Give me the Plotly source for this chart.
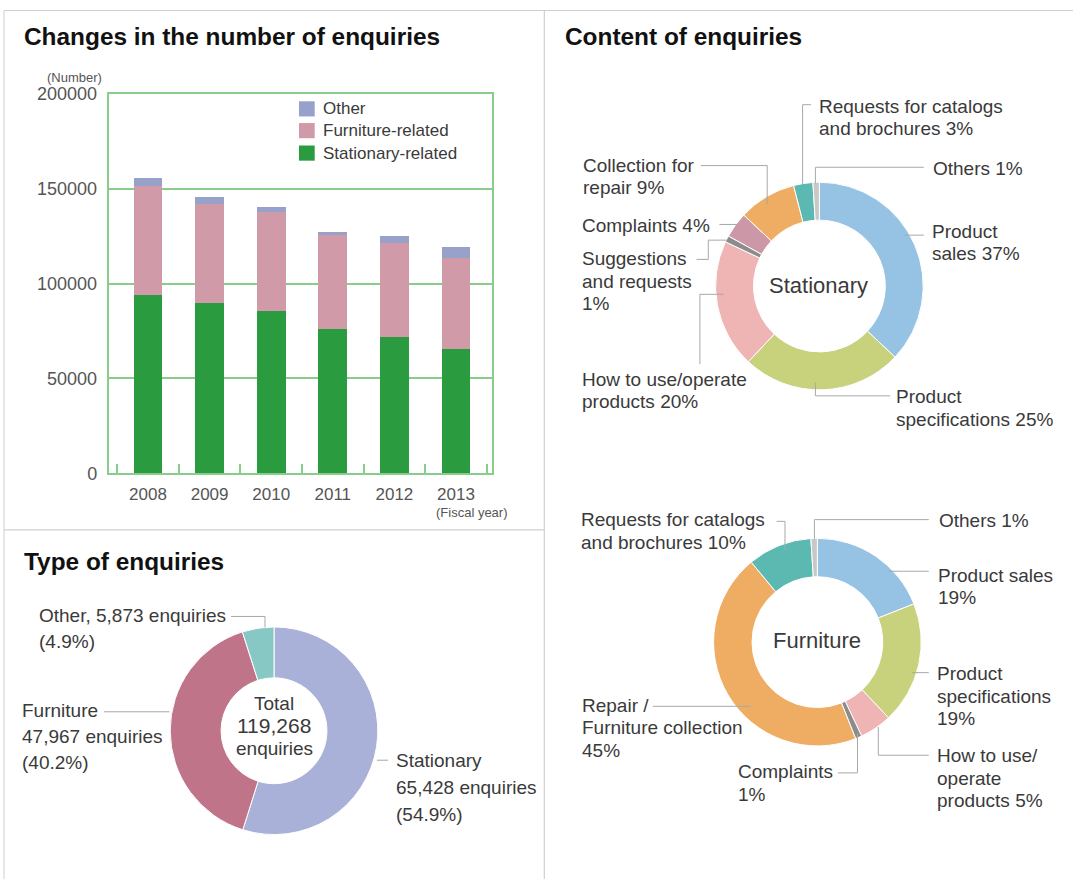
import plotly.graph_objects as go

# ---------------- DATA ----------------
years = [2008, 2009, 2010, 2011, 2012, 2013]
year_labels = ["2008", "2009", "2010", "2011", "2012", "2013"]
series_names = ["Stationary-related", "Furniture-related", "Other"]
stationary_counts = [94000, 89500, 85500, 76000, 72000, 65428]
furniture_counts = [57500, 52500, 52000, 49500, 49500, 47967]
other_counts = [4000, 3500, 3000, 1500, 3800, 5873]
y_ticks = [0, 50000, 100000, 150000, 200000]

type_names = ["Stationary", "Furniture", "Other"]
type_values = [65428, 47967, 5873]

stat_names = ["Product sales", "Product specifications", "How to use/operate products",
              "Suggestions and requests", "Complaints", "Collection for repair",
              "Requests for catalogs and brochures", "Others"]
stat_pct = [37, 25, 20, 1, 4, 9, 3, 1]

furn_names = ["Product sales", "Product specifications", "How to use/operate products",
              "Complaints", "Repair / Furniture collection",
              "Requests for catalogs and brochures", "Others"]
furn_pct = [19, 19, 5, 1, 45, 10, 1]

# ---------------- STYLE ----------------
W, H = 1073, 879
OFF, SC = 8.45, 0.979  # vertical correction for how the page is photographed
FONT = "Liberation Sans, Arial, Helvetica, sans-serif"
TXT = "#3a3a3a"
LEAD = "#a8a8a8"
GREEN_LINE = "#88ce8a"
bar_colors = ["#2b9b3f", "#d09aa9", "#97a1c9"]
type_colors = ["#aab1d8", "#bf7489", "#88c8c4"]
stat_colors = ["#96c2e3", "#c8d17c", "#efb4b4", "#8c8c8c", "#cc97a6", "#efad63", "#5bb9b2", "#c8c8c8"]
furn_colors = ["#96c2e3", "#c8d17c", "#efb4b4", "#8c8c8c", "#efad63", "#5bb9b2", "#c8c8c8"]


def X(p):
    return p / W


def Y(p):
    return 1 - ((p - OFF) / SC) / H


fig = go.Figure()

# ---------------- BAR CHART ----------------
for name, vals, col in zip(series_names, [stationary_counts, furniture_counts, other_counts], bar_colors):
    fig.add_trace(go.Bar(x=years, y=vals, name=name, marker=dict(color=col, line=dict(width=0)),
                         width=0.47, showlegend=False, xaxis="x", yaxis="y"))

fig.update_layout(
    barmode="stack",
    xaxis=dict(domain=[X(108.5), X(491.7)], range=[2007.359, 2013.58], tickmode="array",
               tickvals=years, ticktext=year_labels, showgrid=False, zeroline=False,
               showline=True, mirror=True, linecolor=GREEN_LINE, linewidth=1.5, ticks="",
               tickfont=dict(family=FONT, size=17, color="#555555"), ticklabelstandoff=5,
               minor=dict(ticks="inside", ticklen=9, tickcolor=GREEN_LINE, tickwidth=1.5,
                          tick0=2008.5, dtick=1, showgrid=False),
               fixedrange=True),
    yaxis=dict(domain=[Y(472.5), Y(92.5)], range=[0, 200000], tickmode="array", tickvals=y_ticks,
               ticktext=[str(v) for v in y_ticks], showgrid=True, gridcolor=GREEN_LINE, gridwidth=1.5,
               zeroline=False, showline=True, mirror=True, linecolor=GREEN_LINE, linewidth=1.5,
               ticks="", tickfont=dict(family=FONT, size=18, color="#555555"), ticklabelstandoff=6,
               fixedrange=True),
)

# ---------------- DONUTS ----------------
def dom(cx, cy, r):
    return dict(x=[X(cx - r), X(cx + r)], y=[Y(cy + r), Y(cy - r)])


fig.add_trace(go.Pie(values=type_values, labels=type_names, domain=dom(274, 730.5, 104), hole=0.51,
                     sort=False, direction="clockwise", rotation=0, textinfo="none",
                     marker=dict(colors=type_colors, line=dict(color="white", width=1)), showlegend=False))
fig.add_trace(go.Pie(values=stat_pct, labels=stat_names, domain=dom(819.4, 285, 104), hole=0.635,
                     sort=False, direction="clockwise", rotation=0, textinfo="none",
                     marker=dict(colors=stat_colors, line=dict(color="white", width=1)), showlegend=False))
fig.add_trace(go.Pie(values=furn_pct, labels=furn_names, domain=dom(817.4, 641.7, 104), hole=0.63,
                     sort=False, direction="clockwise", rotation=0, textinfo="none",
                     marker=dict(colors=furn_colors, line=dict(color="white", width=1)), showlegend=False))

annotations = []
shapes = []


def text(x, y, s, size=19, color=TXT, bold=False, anchor="left"):
    annotations.append(dict(x=X(x), y=Y(y), xref="paper", yref="paper", text=(f"<b>{s}</b>" if bold else s),
                            showarrow=False, xanchor=anchor, yanchor="middle",
                            font=dict(family=FONT, size=size, color=color)))


def block(x, y, lines, dy=22.5, size=19, anchor="left"):
    for i, s in enumerate(lines):
        text(x, y + i * dy, s, size=size, anchor=anchor)


def poly(pts, color=LEAD, width=1):
    path = "M" + " L".join(f"{X(a)},{Y(b)}" for a, b in pts)
    shapes.append(dict(type="path", xref="paper", yref="paper", path=path,
                       line=dict(color=color, width=width)))


# frame / dividers
poly([(4, 890), (4, OFF + 0.5), (1073, OFF + 0.5)], color="#cfcfcf", width=1)
poly([(544.3, OFF), (544.3, 890)], color="#cfcfcf", width=1.2)
poly([(4, 529.3), (544.3, 529.3)], color="#cfcfcf", width=1.2)

# titles
text(22, 35, "Changes in the number of enquiries", size=24.4, color="#111111", bold=True)
text(22, 561, "Type of enquiries", size=24.4, color="#111111", bold=True)
text(563, 35, "Content of enquiries", size=24.4, color="#111111", bold=True)

# bar chart extras
text(74, 76, "(Number)", size=13, color="#555555", anchor="center")
text(471.5, 511.5, "(Fiscal year)", size=13, color="#555555", anchor="center")
leg_rows = [107.5, 129.3, 151.8]
for nm, col, yc in zip(series_names[::-1], bar_colors[::-1], leg_rows):
    shapes.append(dict(type="rect", xref="paper", yref="paper", x0=X(299), x1=X(314.7),
                       y0=Y(yc + 7.6), y1=Y(yc - 7.6), fillcolor=col, line=dict(width=0)))
    text(320.5, yc, nm, size=17, color=TXT)

# Type of enquiries labels
total = sum(type_values)
tv = dict(zip(type_names, type_values))
block(274, 703, ["Total", f"{total:,}", "enquiries"], dy=22.5, size=19, anchor="center")
annotations[-2]["font"]["size"] = 21
block(36.5, 615.5, [f"Other, {tv['Other']:,} enquiries", f"({tv['Other'] / total * 100:.1f}%)"], dy=26)
poly([(231, 616), (265, 616), (265, 627)])
block(20, 710, ["Furniture", f"{tv['Furniture']:,} enquiries", f"({tv['Furniture'] / total * 100:.1f}%)"], dy=26)
poly([(104, 711.5), (169.5, 711.5)])
block(394, 760, ["Stationary", f"{tv['Stationary']:,} enquiries", f"({tv['Stationary'] / total * 100:.1f}%)"], dy=27)
poly([(377, 760), (388, 760)])

# Stationary donut labels
sp = dict(zip(stat_names, stat_pct))
text(818.4, 284, "Stationary", size=22, anchor="center")
block(817, 105, ["Requests for catalogs", f"and brochures {sp['Requests for catalogs and brochures']}%"])
poly([(811, 103.3), (802.6, 103.3), (802.6, 183.3)])
block(930.5, 167.3, [f"Others {sp['Others']}%"])
poly([(923.8, 166), (815.4, 166), (815.4, 182)])
block(581.4, 164, ["Collection for", f"repair {sp['Collection for repair']}%"])
poly([(700.9, 164.3), (767.2, 164.3), (767.2, 203.3)])
block(580.4, 224, [f"Complaints {sp['Complaints']}%"])
poly([(719.4, 223.3), (736.9, 223.3)])
block(580.4, 257.7, ["Suggestions", "and requests", f"{sp['Suggestions and requests']}%"])
poly([(696.5, 258.3), (708.3, 258.3), (708.3, 239), (726.8, 239)])
block(580.4, 378.3, ["How to use/operate", f"products {sp['How to use/operate products']}%"])
poly([(699.9, 363.3), (699.9, 293.3), (723.5, 293.3)])
block(929.8, 230, ["Product", f"sales {sp['Product sales']}%"])
poly([(904.6, 234), (923.8, 234)])
block(894.2, 396, ["Product", f"specifications {sp['Product specifications']}%"])
poly([(815.4, 381.7), (815.4, 395), (890, 395)])

# Furniture donut labels
fp = dict(zip(furn_names, furn_pct))
text(817, 640, "Furniture", size=22, anchor="center")
block(578.7, 519, ["Requests for catalogs", f"and brochures {fp['Requests for catalogs and brochures']}%"])
poly([(776.6, 520.7), (785, 520.7), (785, 549.3)])
block(937.3, 520, [f"Others {fp['Others']}%"])
poly([(928.8, 519), (814.4, 519), (814.4, 538.3)])
block(936.2, 575, ["Product sales", f"{fp['Product sales']}%"])
poly([(888.4, 570.7), (928.8, 570.7)])
block(934.9, 673.3, ["Product", "specifications", f"{fp['Product specifications']}%"])
poly([(912, 672.3), (928.8, 672.3)])
block(934.9, 755.7, ["How to use/", "operate", f"products {fp['How to use/operate products']}%"])
poly([(878.3, 726.7), (878.3, 755), (928.8, 755)])
block(736.2, 771.7, ["Complaints", f"{fp['Complaints']}%"])
poly([(837.9, 772.7), (857.5, 772.7), (857.5, 733.3)])
block(580.4, 705, ["Repair /", "Furniture collection", f"{fp['Repair / Furniture collection']}%"])
poly([(652.7, 706), (750.4, 706)])

fig.update_layout(
    width=W, height=H, autosize=False, margin=dict(l=0, r=0, t=0, b=0, pad=0),
    paper_bgcolor="white", plot_bgcolor="white", showlegend=False,
    annotations=annotations, shapes=shapes,
    font=dict(family=FONT, color=TXT),
)

fig.write_html(
    "out.html", config={"displayModeBar": False},
    post_script=(
        "document.documentElement.style.margin='0';"
        "document.body.style.margin='0';document.body.style.padding='0';"
        "document.body.style.fontSize='0';document.body.style.lineHeight='0';"
        "var gd=document.getElementById('{plot_id}');"
        "gd.style.position='absolute';gd.style.left='0px';gd.style.top='0px';"
        "document.documentElement.style.overflow='hidden';document.body.style.overflow='hidden';"
    ),
)
